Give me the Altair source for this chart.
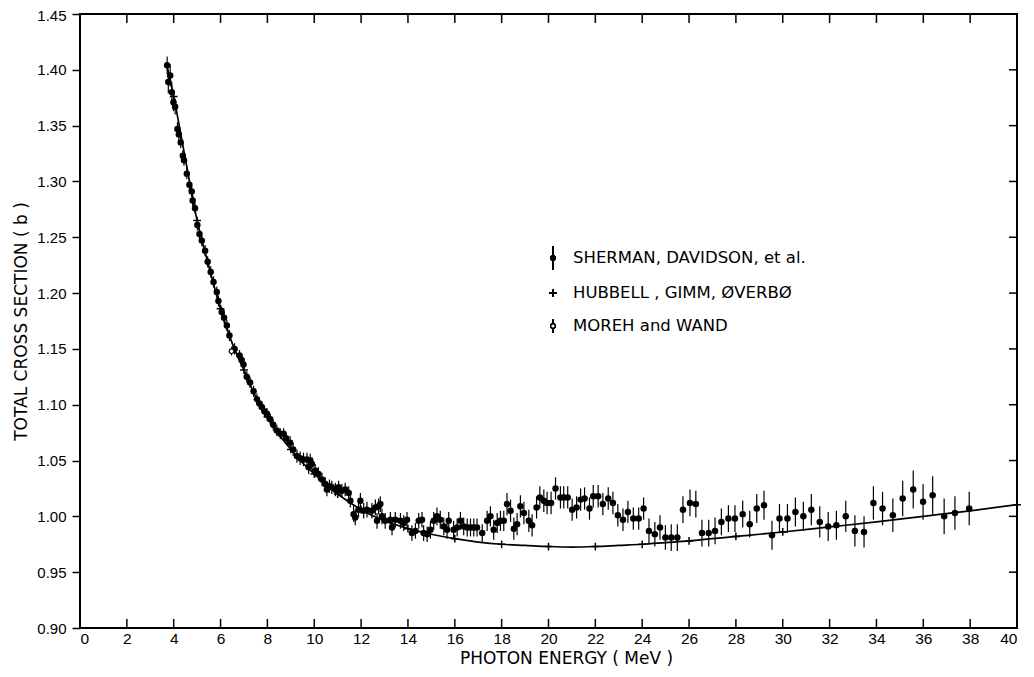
import altair as alt
import pandas as pd

FONT = "Liberation Sans"
TFONT = "DejaVu Sans"

# ---------------- data ----------------
# Sherman, Davidson, et al. (energy MeV, cross section b, error b)
sd_e_a = [3.72, 3.77, 3.85, 3.92, 3.99, 4.06, 4.16, 4.22, 4.30, 4.39, 4.44, 4.56, 4.67, 4.77,
          4.81, 4.91, 5.01, 5.10, 5.20, 5.34, 5.45, 5.58, 5.70, 5.84, 5.91, 6.05, 6.15, 6.27,
          6.38, 6.60, 6.81, 6.90, 6.98, 7.12, 7.26, 7.41, 7.55, 7.66, 7.76, 7.88, 7.98]
sd_c_a = [1.404, 1.389, 1.395, 1.380, 1.371, 1.367, 1.347, 1.342, 1.335, 1.323, 1.319, 1.307, 1.297, 1.291,
          1.283, 1.276, 1.261, 1.253, 1.247, 1.238, 1.228, 1.219, 1.210, 1.201, 1.193, 1.183, 1.178, 1.171,
          1.162, 1.150, 1.144, 1.140, 1.136, 1.125, 1.120, 1.112, 1.105, 1.101, 1.098, 1.094, 1.092]
sd_r_a = [0.008, 0.010, 0.010, 0.009, 0.008, 0.007, 0.006, 0.006, 0.005, 0.005, 0.005, 0.005, 0.005, 0.005,
          0.005, 0.005, 0.005, 0.005, 0.005, 0.005, 0.005, 0.005, 0.005, 0.005, 0.005, 0.005, 0.005, 0.005,
          0.005, 0.005, 0.005, 0.005, 0.005, 0.005, 0.005, 0.005, 0.005, 0.005, 0.005, 0.005, 0.005]

sd_e_b = [8.12, 8.25, 8.40, 8.55, 8.69, 8.80, 8.97, 9.10, 9.26, 9.40, 9.54, 9.69, 9.76, 9.83,
          9.90, 10.04, 10.18, 10.33, 10.47, 10.54, 10.65, 10.75, 10.90, 11.04, 11.18, 11.32, 11.47, 11.54,
          11.68, 11.75, 11.89, 11.97, 12.11, 12.25, 12.46, 12.61, 12.68, 12.75, 12.82, 12.89, 13.03, 13.25]
sd_c_b = [1.087, 1.082, 1.077, 1.074, 1.074, 1.070, 1.066, 1.060, 1.054, 1.052, 1.051, 1.051, 1.044, 1.050,
          1.047, 1.041, 1.038, 1.033, 1.029, 1.024, 1.027, 1.026, 1.024, 1.026, 1.023, 1.024, 1.021, 1.014,
          1.002, 0.999, 1.006, 1.014, 1.005, 1.006, 1.005, 1.008, 0.996, 1.009, 1.011, 1.000, 0.996, 0.997]
sd_r_b = [0.005, 0.005, 0.005, 0.005, 0.005, 0.005, 0.006, 0.006, 0.006, 0.006, 0.006, 0.006, 0.006, 0.006,
          0.006, 0.006, 0.006, 0.006, 0.006, 0.006, 0.006, 0.006, 0.006, 0.006, 0.006, 0.006, 0.006, 0.006,
          0.007, 0.007, 0.007, 0.007, 0.007, 0.007, 0.007, 0.007, 0.007, 0.007, 0.007, 0.007, 0.007, 0.007]

sd_e_c = [13.32, 13.46, 13.68, 13.82, 13.96, 14.17, 14.32, 14.46, 14.60, 14.67, 14.82, 14.96, 15.10, 15.24,
          15.38, 15.53, 15.67, 15.74, 15.95, 16.10, 16.24, 16.38, 16.53, 16.67, 16.81, 16.95, 17.17, 17.38,
          17.52, 17.66, 17.81, 17.95, 18.09, 18.23, 18.38, 18.52, 18.66, 18.80, 18.95, 19.16, 19.30, 19.49]
sd_c_c = [0.990, 0.997, 0.996, 0.994, 0.997, 0.985, 0.987, 0.996, 0.997, 0.985, 0.984, 0.988, 0.996, 1.000,
          0.997, 0.991, 0.988, 0.996, 0.988, 0.990, 0.996, 0.991, 0.990, 0.990, 0.990, 0.990, 0.985, 0.996,
          1.000, 0.988, 0.994, 0.996, 0.996, 1.011, 1.005, 0.989, 0.993, 1.009, 1.003, 0.996, 0.992, 1.008]
sd_r_c = [0.007, 0.007, 0.007, 0.007, 0.007, 0.007, 0.007, 0.007, 0.007, 0.007, 0.007, 0.008, 0.008, 0.008,
          0.008, 0.008, 0.008, 0.008, 0.008, 0.008, 0.008, 0.008, 0.008, 0.008, 0.008, 0.008, 0.008, 0.009,
          0.009, 0.009, 0.009, 0.009, 0.009, 0.010, 0.010, 0.010, 0.010, 0.010, 0.010, 0.010, 0.010, 0.010]

sd_e_d = [19.63, 19.80, 19.94, 20.11, 20.30, 20.51, 20.65, 20.82, 21.01, 21.20, 21.37, 21.54, 21.75, 21.91,
          22.12, 22.32, 22.55, 22.75, 22.96, 23.18, 23.39, 23.62, 23.85, 24.06, 24.29, 24.54, 24.76, 24.99,
          25.24, 25.50, 25.74, 26.04, 26.29, 26.55, 26.84, 27.11, 27.38, 27.68, 27.96, 28.29, 28.59, 28.89]
sd_c_d = [1.017, 1.014, 1.012, 1.012, 1.025, 1.017, 1.017, 1.017, 1.006, 1.008, 1.015, 1.016, 1.007, 1.018,
          1.018, 1.011, 1.016, 1.012, 1.001, 0.997, 1.004, 0.998, 0.998, 1.007, 0.987, 0.984, 0.990, 0.981,
          0.981, 0.981, 1.006, 1.012, 1.011, 0.985, 0.985, 0.987, 0.995, 0.998, 0.998, 1.002, 0.993, 1.007]
sd_r_d = [0.010, 0.010, 0.010, 0.010, 0.010, 0.010, 0.010, 0.010, 0.010, 0.010, 0.010, 0.010, 0.010, 0.010,
          0.010, 0.010, 0.010, 0.010, 0.010, 0.010, 0.010, 0.010, 0.010, 0.010, 0.011, 0.011, 0.011, 0.011,
          0.012, 0.012, 0.012, 0.012, 0.012, 0.012, 0.012, 0.012, 0.012, 0.012, 0.012, 0.012, 0.012, 0.013]

sd_e_e = [29.20, 29.54, 29.86, 30.20, 30.54, 30.88, 31.22, 31.58, 31.94, 32.29, 32.69, 33.08, 33.47, 33.87,
          34.26, 34.70, 35.12, 35.57, 35.99, 36.40, 36.89, 37.35, 37.96]
sd_c_e = [1.010, 0.983, 0.998, 0.998, 1.004, 1.000, 1.006, 0.995, 0.991, 0.992, 1.000, 0.987, 0.986, 1.012,
          1.007, 1.001, 1.016, 1.024, 1.013, 1.019, 1.000, 1.003, 1.007]
sd_r_e = [0.013, 0.013, 0.013, 0.013, 0.013, 0.013, 0.014, 0.014, 0.013, 0.013, 0.014, 0.014, 0.014, 0.015,
          0.015, 0.015, 0.016, 0.017, 0.016, 0.017, 0.016, 0.015, 0.015]

# Hubbell, Gimm, Overbo (calculated curve and marked points)
hub_curve_e = [3.7, 4.0, 4.5, 5.0, 5.5, 6.0, 6.5, 7.0, 7.5, 8.0, 8.5, 9.0, 9.5, 10, 11, 12, 13, 14, 15,
               16, 17, 18, 19, 20, 21, 22, 23, 24, 25, 26, 27, 28, 29, 30, 32, 34, 36, 38, 40]
hub_curve_c = [1.405, 1.376, 1.320, 1.265, 1.224, 1.186, 1.155, 1.131, 1.107, 1.089, 1.073, 1.060, 1.048,
               1.038, 1.020, 1.006, 0.996, 0.989, 0.984, 0.980, 0.977, 0.975, 0.974, 0.973, 0.9725, 0.973,
               0.974, 0.975, 0.9765, 0.978, 0.980, 0.982, 0.984, 0.986, 0.9905, 0.995, 1.000, 1.005, 1.0105]
hub_mark_e = [4, 5, 6, 7, 8, 9, 10, 11, 12, 14, 16, 18, 20, 22, 24, 26, 28, 30, 40]
hub_mark_c = [1.376, 1.265, 1.186, 1.131, 1.089, 1.060, 1.038, 1.020, 1.006, 0.989, 0.980, 0.975, 0.973,
              0.973, 0.975, 0.978, 0.982, 0.986, 1.0105]

# Moreh and Wand
mw_e = [6.47]
mw_c = [1.148]
mw_r = [0.004]

x_ticks = [0, 2, 4, 6, 8, 10, 12, 14, 16, 18, 20, 22, 24, 26, 28, 30, 32, 34, 36, 38, 40]
y_ticks = [0.90, 0.95, 1.00, 1.05, 1.10, 1.15, 1.20, 1.25, 1.30, 1.35, 1.40, 1.45]

legend_labels = ["SHERMAN,  DAVIDSON,  et  al.", "HUBBELL ,  GIMM,  ØVERBØ", "MOREH  and  WAND"]

# ---------------- build tables ----------------
sd = pd.DataFrame({
    "e": sd_e_a + sd_e_b + sd_e_c + sd_e_d + sd_e_e,
    "c": sd_c_a + sd_c_b + sd_c_c + sd_c_d + sd_c_e,
    "r": sd_r_a + sd_r_b + sd_r_c + sd_r_d + sd_r_e,
})
curve = pd.DataFrame({"e": hub_curve_e, "c": hub_curve_c})
hub = pd.DataFrame({"e": hub_mark_e, "c": hub_mark_c})
mw = pd.DataFrame({"e": mw_e, "c": mw_c, "r": mw_r})
xt = pd.DataFrame({"e": x_ticks})
yt = pd.DataFrame({"c": y_ticks})

W, H = 937, 614
xs = alt.Scale(domain=[0, 40], nice=False, zero=False)
ys = alt.Scale(domain=[0.90, 1.45], nice=False, zero=False)

TOP_TEST = "datum.value >= 1.449"
X_AX = alt.Axis(values=x_ticks, format="d", ticks=False, domain=False, grid=False,
                labelFont=FONT, labelFontSize=15.5, labelColor="black", labelPadding=3,
                titleFont=TFONT, titleFontSize=17,
                titleFontWeight="normal", titleColor="black",
                titleX=486, titleY=35, titleAlign="center", titleBaseline="alphabetic")
Y_AX = alt.Axis(values=y_ticks, format=".2f", ticks=True, tickSize=8, tickWidth=1.5,
                tickColor="black", domain=False, grid=False,
                labelFont=FONT, labelFontSize=15, labelColor="black", labelPadding=6,
                labelBaseline={"condition": {"test": TOP_TEST, "value": "top"}, "value": "middle"},
                labelOffset={"condition": {"test": TOP_TEST, "value": -6}, "value": 0},
                titleFont=TFONT, titleFontSize=17,
                titleFontWeight="normal", titleColor="black",
                titleX=-59, titleY=H / 2, titleAngle=270, titleAlign="center",
                titleBaseline="middle")
XT = "PHOTON  ENERGY  ( MeV )"
YT = "TOTAL  CROSS  SECTION  ( b )"


def X(f):
    return alt.X(f, scale=xs, axis=X_AX, title=XT)


def Y(f):
    return alt.Y(f, scale=ys, axis=Y_AX, title=YT)


line = alt.Chart(curve).mark_line(color="black", strokeWidth=1.7, interpolate="monotone").encode(
    x=X("e:Q"), y=Y("c:Q"))

hub_pts = alt.Chart(hub).mark_point(shape="M-1,0L1,0M0,-1L0,1", size=60, filled=False,
                                    color="black", strokeWidth=1.5, opacity=1).encode(
    x=X("e:Q"), y=Y("c:Q"))

err = alt.Chart(sd).transform_calculate(lo="datum.c - datum.r", hi="datum.c + datum.r").mark_rule(
    color="black", strokeWidth=1.2).encode(
    x=X("e:Q"), y=Y("lo:Q"), y2="hi:Q")

pts = alt.Chart(sd).mark_circle(size=42, color="black", opacity=1).encode(
    x=X("e:Q"), y=Y("c:Q"))

mw_err = alt.Chart(mw).transform_calculate(lo="datum.c - datum.r", hi="datum.c + datum.r").mark_rule(
    color="black", strokeWidth=1).encode(
    x=X("e:Q"), y=Y("lo:Q"), y2="hi:Q")
mw_pt = alt.Chart(mw).mark_point(shape="circle", size=22, filled=True, color="white",
                                 stroke="black", strokeWidth=1.2, opacity=1).encode(
    x=X("e:Q"), y=Y("c:Q"))

# inward ticks on bottom, top and right
tick_bottom = alt.Chart(xt).mark_rule(color="black", strokeWidth=1.5).encode(
    x=X("e:Q"), y=alt.value(H), y2=alt.value(H - 9))
tick_top = alt.Chart(xt).mark_rule(color="black", strokeWidth=1.5).encode(
    x=X("e:Q"), y=alt.value(0), y2=alt.value(9))
tick_right = alt.Chart(yt).mark_rule(color="black", strokeWidth=1.5).encode(
    y=Y("c:Q"), x=alt.value(W), x2=alt.value(W - 8))

# legend
LX, LT = 473, 493
rows = [244, 279, 312]
leg = []
leg.append(alt.Chart(xt).mark_rule(color="black", strokeWidth=1.2).encode(
    x=alt.value(LX), y=alt.value(rows[0] - 12), y2=alt.value(rows[0] + 12)))
leg.append(alt.Chart(xt).mark_point(shape="circle", size=30, filled=True, color="black", opacity=1).encode(
    x=alt.value(LX), y=alt.value(rows[0])))
leg.append(alt.Chart(xt).mark_point(shape="M-1,0L1,0M0,-1L0,1", size=45, filled=False, color="black",
                                    strokeWidth=1.3, opacity=1).encode(
    x=alt.value(LX), y=alt.value(rows[1])))
leg.append(alt.Chart(xt).mark_rule(color="black", strokeWidth=1).encode(
    x=alt.value(LX), y=alt.value(rows[2] - 7), y2=alt.value(rows[2] + 7)))
leg.append(alt.Chart(xt).mark_point(shape="circle", size=18, filled=True, color="white", stroke="black",
                                    strokeWidth=1.1, opacity=1).encode(
    x=alt.value(LX), y=alt.value(rows[2])))
for lab, ry in zip(legend_labels, rows):
    leg.append(alt.Chart(pd.DataFrame({"s": [lab]})).mark_text(
        align="left", baseline="middle", font=TFONT, fontSize=16.5, color="black").encode(
        x=alt.value(LT), y=alt.value(ry), text="s:N"))

chart = alt.layer(line, hub_pts, err, pts, mw_err, mw_pt, tick_bottom, tick_top, tick_right, *leg).properties(
    width=W, height=H,
    padding={"left": 72, "top": 6, "right": 8, "bottom": 40},
    autosize=alt.AutoSizeParams(type="none"),
    background="white",
).configure_view(stroke="black", strokeWidth=2)

chart.save("out.html", embed_options={"renderer": "svg", "actions": False})
